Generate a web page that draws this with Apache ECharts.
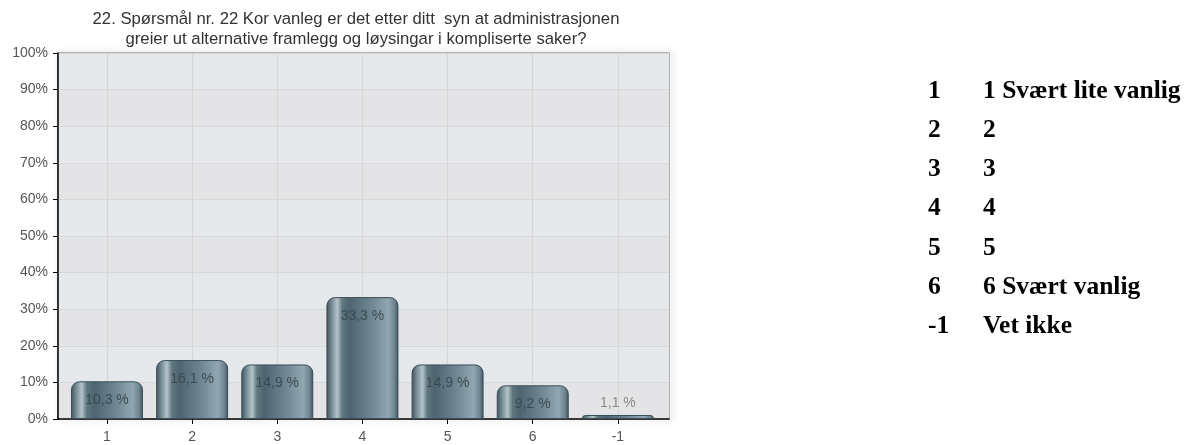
<!DOCTYPE html>
<html>
<head>
<meta charset="utf-8">
<script src="https://cdn.jsdelivr.net/npm/echarts@6/dist/echarts.min.js"></script>
<style>
html,body{margin:0;padding:0;background:#fff;}
#c{width:1203px;height:445px;}
</style>
</head>
<body>
<div id="c"></div>
<script>
const titleLines = ["22. Spørsmål nr. 22 Kor vanleg er det etter ditt  syn at administrasjonen", "greier ut alternative framlegg og løysingar i kompliserte saker?"];
const categories = ["1", "2", "3", "4", "5", "6", "-1"];
const values = [10.3, 16.1, 14.9, 33.3, 14.9, 9.2, 1.1];
const yTicks = [0, 10, 20, 30, 40, 50, 60, 70, 80, 90, 100];
const legendCodes = ["1", "2", "3", "4", "5", "6", "-1"];
const legendTexts = ["1 Svært lite vanlig", "2", "3", "4", "5", "6 Svært vanlig", "Vet ikke"];

const chart = echarts.init(document.getElementById('c'), null, {renderer: 'canvas'});
const idx = categories.map((_, i) => i);
const sans = '"Liberation Sans", Arial, sans-serif';
const serifFont = 'bold 25.5px "Liberation Serif", "Times New Roman", serif';

const barGradient = new echarts.graphic.LinearGradient(0, 0, 1, 0, [
  {offset: 0, color: '#3d535e'},
  {offset: 0.08, color: '#7d919b'},
  {offset: 0.15, color: '#b5c3ca'},
  {offset: 0.22, color: '#60767f'},
  {offset: 0.32, color: '#4e6571'},
  {offset: 0.6, color: '#6c8490'},
  {offset: 0.86, color: '#91a6b1'},
  {offset: 0.95, color: '#6d8290'},
  {offset: 1, color: '#3b505b'}
]);

const legendGraphics = [];
legendCodes.forEach((c, i) => {
  legendGraphics.push({type: 'text', x: 928, y: 91 + i * 39.3,
    style: {text: c, font: serifFont, fill: '#000', verticalAlign: 'middle'}});
  legendGraphics.push({type: 'text', x: 983, y: 91 + i * 39.3,
    style: {text: legendTexts[i], font: serifFont, fill: '#000', verticalAlign: 'middle'}});
});

chart.setOption({
  animation: false,
  title: {
    text: titleLines.join('\n'),
    left: 351, top: 4, textAlign: 'center',
    textStyle: {fontFamily: sans, fontSize: 16.7, fontWeight: 'normal', color: '#333', lineHeight: 20}
  },
  grid: {
    left: 58, right: 1203 - 669, top: 53, bottom: 445 - 419,
    show: true, backgroundColor: 'transparent', borderColor: '#9a9a9a', borderWidth: 1.5,
    shadowColor: 'rgba(0,0,0,0.25)', shadowBlur: 6, shadowOffsetX: 2, shadowOffsetY: 0
  },
  xAxis: {
    type: 'value', min: -0.575, max: 6.6,
    axisLine: {show: true, onZero: false, lineStyle: {color: '#000', width: 1.5}},
    axisTick: {show: true, length: 5, lineStyle: {color: '#000'}, customValues: idx},
    axisLabel: {customValues: idx, formatter: v => categories[Math.round(v)] ?? '', color: '#555',
      fontFamily: sans, fontSize: 14, margin: 11},
    splitLine: {show: true, lineStyle: {color: '#d6d6d6', width: 1}}
  },
  yAxis: {
    type: 'value', min: 0, max: 100, interval: 10,
    axisLine: {show: true, onZero: false, lineStyle: {color: '#000', width: 1.5}},
    axisTick: {show: true, length: 5, lineStyle: {color: '#000'}},
    axisLabel: {formatter: v => yTicks.includes(v) ? v + '%' : '', color: '#555',
      fontFamily: sans, fontSize: 14, margin: 10},
    splitLine: {show: true, lineStyle: {color: '#d8d8d8', width: 1}},
    splitArea: {show: true, areaStyle: {color: ['#e4e4e6', '#e6e9ec']}}
  },
  series: [{
    type: 'bar',
    barWidth: 72,
    data: values.map((v, i) => ({
      value: [i, v],
      label: v < 5 ? {position: 'top', distance: 5, color: '#8a8a8a'} : {}
    })),
    itemStyle: {color: barGradient, borderColor: '#3a4e58', borderWidth: 1, borderRadius: [8, 8, 0, 0]},
    label: {
      show: true, position: 'insideTop', distance: 12,
      formatter: p => p.value[1].toFixed(1).replace('.', ',') + ' %',
      color: '#3c4a52', fontFamily: sans, fontSize: 14
    }
  }],
  graphic: legendGraphics
});
</script>
</body>
</html>
